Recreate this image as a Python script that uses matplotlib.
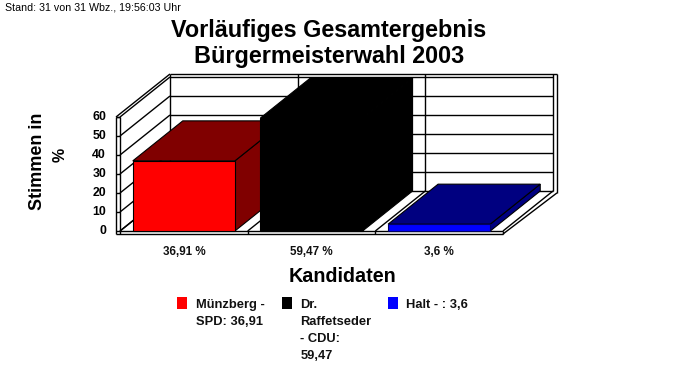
import matplotlib
matplotlib.use('Agg')
from matplotlib import pyplot as plt
from matplotlib.patches import Polygon, Rectangle

W, H = 683, 380

# data
candidates = ['Münzberg -\nSPD: 36,91', 'Dr.\nRaffetseder\n- CDU:\n59,47', 'Halt - : 3,6']
values = [36.91, 59.47, 3.6]
value_labels = ['36,91 %', '59,47 %', '3,6 %']
front_colors = ['#ff0000', '#000000', '#0000ff']
dark_colors = ['#800000', '#000000', '#000080']
y_ticks = [0, 10, 20, 30, 40, 50, 60]

plt.rcParams['font.family'] = ['Liberation Sans', 'DejaVu Sans']

fig = plt.figure(figsize=(W / 100, H / 100), dpi=100)
fig.patch.set_facecolor('white')


def fig_xy(x, y):
    return x / W, 1 - y / H


# front plane of the 3d box: x 120..503 px, y 231..117 px
ax = fig.add_axes([120 / W, 1 - 231 / H, 383 / W, 114 / H])
ax.set_xlim(0, 3)
ax.set_ylim(0, 60)
ax.axis('off')

# 3d depth in data units (50 px right, 40 px up)
dx = 50 / (383 / 3)
dy = 40 / (114 / 60)
# extra frame thickness
ex = 4 / (383 / 3)
ey = 3 / (114 / 60)
bar_w = 0.8


def line(xs, ys, lw=1.0):
    ax.plot(xs, ys, color='black', lw=lw, clip_on=False, solid_capstyle='butt', zorder=2)


# back wall and grid
for t in y_ticks:
    line([dx, 3 + dx], [t + dy, t + dy])
    line([0, dx], [t, t + dy])
    line([-ex, 0], [t, t])
for i in range(4):
    line([i + dx, i + dx], [dy, 60 + dy + ey])
    line([i, i + dx], [0, dy])
    line([i, i], [-ey, 0])

# outer frame
line([dx, 3 + dx + ex], [60 + dy + ey, 60 + dy + ey])
line([3 + dx + ex, 3 + dx + ex], [dy - 1, 60 + dy + ey])
line([-ex, dx], [60, 60 + dy + ey])
line([-ex, -ex], [-ey, 60])
line([-ex, 0], [60, 60])
line([0, 0], [0, 60])
line([-ex, 3], [-ey, -ey])
line([0, 3], [0, 0])
line([3, 3 + dx + ex], [-ey, dy - 1])

# bars, back to front
for i, (v, fc, dc) in enumerate(zip(values, front_colors, dark_colors)):
    x0 = i + (1 - bar_w) / 2
    x1 = x0 + bar_w
    edge = 'black' if fc != '#0000ff' else '#000060'
    ax.add_patch(Polygon([(x1, 0), (x1 + dx, dy), (x1 + dx, v + dy), (x1, v)],
                         fc=dc, ec='black', lw=0.8, clip_on=False, zorder=3))
    ax.add_patch(Polygon([(x0, v), (x0 + dx, v + dy), (x1 + dx, v + dy), (x1, v)],
                         fc=dc, ec='black', lw=0.8, clip_on=False, zorder=3))
    ax.add_patch(Rectangle((x0, 0), bar_w, v, fc=fc, ec=edge, lw=0.8, clip_on=False, zorder=4))
    ax.text(i + 0.5, -11, value_labels[i], ha='center', va='center', fontsize=8.4,
            fontweight='bold', color='#111111')

# y tick labels
for t in y_ticks:
    ax.text(-14 / 127.7, t, str(t), ha='right', va='center', fontsize=8.8, fontweight='bold')

# texts
fig.text(*fig_xy(5, 8), 'Stand: 31 von 31 Wbz., 19:56:03 Uhr', fontsize=7.7, va='center', ha='left')
fig.text(*fig_xy(329, 30), 'Vorläufiges Gesamtergebnis', fontsize=16.8, fontweight='bold', va='center', ha='center')
fig.text(*fig_xy(329, 56), 'Bürgermeisterwahl 2003', fontsize=16.8, fontweight='bold', va='center', ha='center')
fig.text(*fig_xy(38, 161), 'Stimmen in', fontsize=13, fontweight='bold', rotation=90, va='center', ha='center')
fig.text(*fig_xy(60, 155), '%', fontsize=11.5, fontweight='bold', rotation=90, va='center', ha='center')
fig.text(*fig_xy(343, 276), 'Kandidaten', fontsize=14.2, fontweight='bold', va='center', ha='center')

# legend
legend_x = [177, 282, 388]
for lx, c, name in zip(legend_x, front_colors, candidates):
    fig.add_artist(Rectangle(fig_xy(lx, 309), 10 / W, 12 / H, fc=c, ec='none', transform=fig.transFigure))
    fig.text(*fig_xy(lx + 18.5, 299), name, fontsize=9.3, fontweight='bold', va='top', ha='left',
             linespacing=1.56, color='#111111')

fig.savefig('out.png', dpi=100)
